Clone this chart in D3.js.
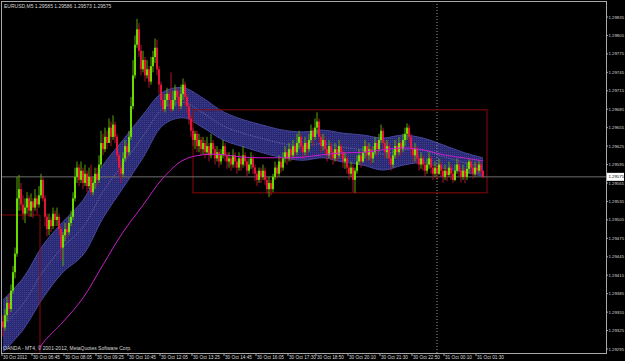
<!DOCTYPE html>
<html>
<head>
<meta charset="utf-8">
<script src="https://cdn.jsdelivr.net/npm/d3@7"></script>
<style>
  html, body { margin: 0; padding: 0; background: #000; }
  svg { display: block; }
  text { font-family: "Liberation Sans", Arial, sans-serif; }
</style>
</head>
<body>
<svg id="chart" width="625" height="361"></svg>
<script>

// header + footer text
const symbolTitle = "EURUSD,M5  1.29585 1.29586 1.29573 1.29575";
const copyright = "OANDA - MT4, \u00a9 2001-2012, MetaQuotes Software Corp.";

// M5 candles, one per bar
const opens = [
1.29340,1.29330,1.29350,1.29370,1.29360,1.29390,1.29420,1.29450,1.29540,1.29555,
1.29530,1.29515,1.29525,1.29540,1.29520,1.29535,1.29525,1.29540,1.29530,1.29545,
1.29570,1.29540,1.29510,1.29490,1.29505,1.29495,1.29515,1.29505,1.29510,1.29490,
1.29460,1.29480,1.29490,1.29485,1.29500,1.29510,1.29540,1.29575,1.29590,1.29570,
1.29585,1.29565,1.29580,1.29560,1.29575,1.29550,1.29565,1.29580,1.29570,1.29595,
1.29630,1.29620,1.29640,1.29630,1.29655,1.29640,1.29660,1.29640,1.29610,1.29590,
1.29580,1.29605,1.29625,1.29615,1.29640,1.29690,1.29740,1.29790,1.29815,1.29780,
1.29750,1.29765,1.29740,1.29750,1.29730,1.29755,1.29770,1.29785,1.29750,1.29725,
1.29700,1.29685,1.29700,1.29710,1.29700,1.29685,1.29700,1.29715,1.29705,1.29690,
1.29710,1.29725,1.29705,1.29690,1.29670,1.29650,1.29635,1.29645,1.29625,1.29635,
1.29620,1.29630,1.29615,1.29625,1.29610,1.29630,1.29620,1.29605,1.29615,1.29600,
1.29610,1.29625,1.29610,1.29600,1.29605,1.29595,1.29610,1.29600,1.29590,1.29605,
1.29595,1.29610,1.29600,1.29585,1.29595,1.29605,1.29590,1.29580,1.29570,1.29585,
1.29575,1.29585,1.29570,1.29555,1.29565,1.29555,1.29575,1.29590,1.29580,1.29600,
1.29590,1.29605,1.29615,1.29605,1.29620,1.29610,1.29625,1.29615,1.29630,1.29640,
1.29625,1.29615,1.29630,1.29620,1.29635,1.29650,1.29640,1.29655,1.29665,1.29640,
1.29625,1.29635,1.29620,1.29610,1.29625,1.29615,1.29605,1.29620,1.29610,1.29625,
1.29615,1.29600,1.29605,1.29590,1.29580,1.29590,1.29570,1.29585,1.29600,1.29610,
1.29600,1.29615,1.29625,1.29610,1.29620,1.29605,1.29615,1.29630,1.29620,1.29635,
1.29650,1.29630,1.29615,1.29625,1.29605,1.29595,1.29610,1.29625,1.29615,1.29630,
1.29620,1.29635,1.29645,1.29655,1.29640,1.29620,1.29610,1.29620,1.29605,1.29595,
1.29605,1.29595,1.29585,1.29595,1.29605,1.29590,1.29580,1.29590,1.29580,1.29595,
1.29585,1.29575,1.29585,1.29578,1.29590,1.29580,1.29570,1.29585,1.29595,1.29585,
1.29575,1.29585,1.29575,1.29588,1.29600,1.29590,1.29580,1.29590,1.29585,1.29595,
1.29585];

const highs = [
1.29350,1.29360,1.29380,1.29385,1.29400,1.29430,1.29460,1.29575,1.29578,1.29565,
1.29545,1.29540,1.29550,1.29545,1.29548,1.29540,1.29555,1.29545,1.29560,1.29580,
1.29575,1.29545,1.29515,1.29515,1.29510,1.29525,1.29520,1.29525,1.29515,1.29495,
1.29485,1.29500,1.29500,1.29510,1.29520,1.29550,1.29590,1.29600,1.29595,1.29600,
1.29590,1.29595,1.29585,1.29590,1.29595,1.29575,1.29590,1.29590,1.29610,1.29650,
1.29645,1.29655,1.29650,1.29670,1.29665,1.29675,1.29665,1.29645,1.29615,1.29600,
1.29615,1.29635,1.29630,1.29650,1.29705,1.29765,1.29805,1.29832,1.29825,1.29790,
1.29780,1.29770,1.29765,1.29755,1.29770,1.29780,1.29800,1.29798,1.29755,1.29730,
1.29710,1.29710,1.29720,1.29715,1.29745,1.29715,1.29725,1.29720,1.29715,1.29725,
1.29735,1.29730,1.29710,1.29695,1.29675,1.29655,1.29650,1.29650,1.29645,1.29640,
1.29640,1.29635,1.29640,1.29630,1.29645,1.29635,1.29625,1.29625,1.29620,1.29620,
1.29635,1.29630,1.29615,1.29615,1.29610,1.29620,1.29615,1.29605,1.29615,1.29610,
1.29625,1.29615,1.29605,1.29605,1.29615,1.29610,1.29595,1.29585,1.29590,1.29590,
1.29595,1.29590,1.29575,1.29575,1.29570,1.29580,1.29600,1.29595,1.29610,1.29605,
1.29615,1.29625,1.29620,1.29630,1.29625,1.29635,1.29630,1.29645,1.29650,1.29645,
1.29630,1.29640,1.29635,1.29645,1.29660,1.29655,1.29670,1.29680,1.29670,1.29645,
1.29645,1.29640,1.29625,1.29635,1.29630,1.29620,1.29630,1.29625,1.29635,1.29630,
1.29620,1.29615,1.29610,1.29595,1.29600,1.29595,1.29590,1.29610,1.29620,1.29615,
1.29625,1.29635,1.29630,1.29630,1.29625,1.29625,1.29640,1.29635,1.29645,1.29660,
1.29655,1.29635,1.29635,1.29630,1.29610,1.29620,1.29635,1.29630,1.29640,1.29635,
1.29645,1.29655,1.29662,1.29660,1.29645,1.29625,1.29630,1.29625,1.29610,1.29615,
1.29610,1.29600,1.29605,1.29615,1.29610,1.29595,1.29600,1.29595,1.29605,1.29600,
1.29590,1.29595,1.29590,1.29600,1.29595,1.29585,1.29595,1.29605,1.29600,1.29590,
1.29595,1.29590,1.29598,1.29605,1.29602,1.29595,1.29600,1.29598,1.29602,1.29599,
1.29586];

const lows = [
1.29315,1.29325,1.29340,1.29350,1.29355,1.29385,1.29410,1.29445,1.29520,1.29520,
1.29505,1.29500,1.29515,1.29510,1.29510,1.29508,1.29520,1.29515,1.29525,1.29540,
1.29535,1.29495,1.29478,1.29480,1.29485,1.29490,1.29495,1.29495,1.29480,1.29440,
1.29430,1.29470,1.29475,1.29480,1.29495,1.29505,1.29535,1.29565,1.29560,1.29565,
1.29555,1.29560,1.29550,1.29555,1.29545,1.29545,1.29555,1.29560,1.29565,1.29590,
1.29610,1.29615,1.29620,1.29630,1.29625,1.29635,1.29630,1.29600,1.29575,1.29565,
1.29575,1.29600,1.29605,1.29610,1.29635,1.29685,1.29735,1.29785,1.29770,1.29740,
1.29745,1.29730,1.29735,1.29720,1.29725,1.29745,1.29760,1.29740,1.29710,1.29690,
1.29680,1.29680,1.29690,1.29685,1.29680,1.29682,1.29690,1.29695,1.29682,1.29685,
1.29700,1.29690,1.29678,1.29660,1.29640,1.29625,1.29620,1.29615,1.29615,1.29610,
1.29612,1.29605,1.29610,1.29600,1.29605,1.29610,1.29595,1.29600,1.29590,1.29595,
1.29605,1.29600,1.29588,1.29590,1.29585,1.29590,1.29590,1.29580,1.29585,1.29585,
1.29590,1.29592,1.29575,1.29580,1.29588,1.29580,1.29568,1.29560,1.29565,1.29565,
1.29570,1.29562,1.29548,1.29542,1.29545,1.29550,1.29570,1.29572,1.29575,1.29582,
1.29585,1.29598,1.29595,1.29600,1.29600,1.29605,1.29608,1.29610,1.29620,1.29615,
1.29605,1.29610,1.29610,1.29615,1.29630,1.29625,1.29635,1.29645,1.29630,1.29615,
1.29618,1.29610,1.29600,1.29605,1.29602,1.29595,1.29600,1.29600,1.29605,1.29605,
1.29590,1.29588,1.29580,1.29570,1.29575,1.29550,1.29549,1.29580,1.29595,1.29590,
1.29598,1.29605,1.29600,1.29602,1.29595,1.29598,1.29610,1.29608,1.29615,1.29630,
1.29620,1.29605,1.29605,1.29595,1.29585,1.29590,1.29605,1.29605,1.29610,1.29610,
1.29615,1.29625,1.29635,1.29630,1.29610,1.29598,1.29600,1.29595,1.29585,1.29588,
1.29585,1.29575,1.29580,1.29588,1.29580,1.29570,1.29575,1.29570,1.29578,1.29575,
1.29565,1.29570,1.29568,1.29575,1.29570,1.29565,1.29568,1.29580,1.29575,1.29566,
1.29570,1.29565,1.29570,1.29580,1.29580,1.29572,1.29575,1.29578,1.29580,1.29578,
1.29573];

const closes = [
1.29330,1.29350,1.29370,1.29360,1.29390,1.29420,1.29450,1.29540,1.29555,1.29530,
1.29515,1.29525,1.29540,1.29520,1.29535,1.29525,1.29540,1.29530,1.29545,1.29570,
1.29540,1.29510,1.29490,1.29505,1.29495,1.29515,1.29505,1.29510,1.29490,1.29460,
1.29480,1.29490,1.29485,1.29500,1.29510,1.29540,1.29575,1.29590,1.29570,1.29585,
1.29565,1.29580,1.29560,1.29575,1.29550,1.29565,1.29580,1.29570,1.29595,1.29630,
1.29620,1.29640,1.29630,1.29655,1.29640,1.29660,1.29640,1.29610,1.29590,1.29580,
1.29605,1.29625,1.29615,1.29640,1.29690,1.29740,1.29790,1.29815,1.29780,1.29750,
1.29765,1.29740,1.29750,1.29730,1.29755,1.29770,1.29785,1.29750,1.29725,1.29700,
1.29685,1.29700,1.29710,1.29700,1.29685,1.29700,1.29715,1.29705,1.29690,1.29710,
1.29725,1.29705,1.29690,1.29670,1.29650,1.29635,1.29645,1.29625,1.29635,1.29620,
1.29630,1.29615,1.29625,1.29610,1.29630,1.29620,1.29605,1.29615,1.29600,1.29610,
1.29625,1.29610,1.29600,1.29605,1.29595,1.29610,1.29600,1.29590,1.29605,1.29595,
1.29610,1.29600,1.29585,1.29595,1.29605,1.29590,1.29580,1.29570,1.29585,1.29575,
1.29585,1.29570,1.29555,1.29565,1.29555,1.29575,1.29590,1.29580,1.29600,1.29590,
1.29605,1.29615,1.29605,1.29620,1.29610,1.29625,1.29615,1.29630,1.29640,1.29625,
1.29615,1.29630,1.29620,1.29635,1.29650,1.29640,1.29655,1.29665,1.29640,1.29625,
1.29635,1.29620,1.29610,1.29625,1.29615,1.29605,1.29620,1.29610,1.29625,1.29615,
1.29600,1.29605,1.29590,1.29580,1.29590,1.29570,1.29585,1.29600,1.29610,1.29600,
1.29615,1.29625,1.29610,1.29620,1.29605,1.29615,1.29630,1.29620,1.29635,1.29650,
1.29630,1.29615,1.29625,1.29605,1.29595,1.29610,1.29625,1.29615,1.29630,1.29620,
1.29635,1.29645,1.29655,1.29640,1.29620,1.29610,1.29620,1.29605,1.29595,1.29605,
1.29595,1.29585,1.29595,1.29605,1.29590,1.29580,1.29590,1.29580,1.29595,1.29585,
1.29575,1.29585,1.29578,1.29590,1.29580,1.29570,1.29585,1.29595,1.29585,1.29575,
1.29585,1.29575,1.29588,1.29600,1.29590,1.29580,1.29590,1.29585,1.29595,1.29585,
1.29575];

// blue envelope, sampled every 10 bars
const bandBars  = [0,10,20,30,40,50,60,70,80,90,100,110,120,130,140,150,160,170,180,190,200,210,220,230,240];
const bandUpper = [1.29375,1.29410,1.29464,1.29502,1.29537,1.29594,1.29635,1.29676,1.29713,1.29720,1.29703,1.29681,1.29668,1.29659,1.29651,1.29648,1.29651,1.29646,1.29643,1.29638,1.29643,1.29638,1.29627,1.29615,1.29606];
const bandMid   = [1.29333,1.29368,1.29421,1.29461,1.29493,1.29551,1.29596,1.29641,1.29686,1.29696,1.29679,1.29658,1.29646,1.29637,1.29629,1.29625,1.29629,1.29623,1.29619,1.29612,1.29619,1.29618,1.29608,1.29599,1.29591];
const bandLower = [1.29290,1.29326,1.29378,1.29420,1.29448,1.29508,1.29557,1.29606,1.29659,1.29671,1.29655,1.29635,1.29624,1.29614,1.29606,1.29602,1.29606,1.29599,1.29594,1.29586,1.29594,1.29598,1.29589,1.29583,1.29576];

// slow moving average (magenta)
const maBars   = [18,20,30,40,50,60,70,80,90,100,110,120,130,140,150,160,170,180,190,200,210,220,230,240];
const maValues = [1.29293,1.29305,1.29339,1.29378,1.29432,1.29485,1.29529,1.29573,1.29602,1.29611,1.29611,1.29607,1.29606,1.29606,1.29607,1.29611,1.29614,1.29615,1.29619,1.29622,1.29619,1.29611,1.29606,1.29601];

// axis labels
const priceTicks = [1.29835,1.29805,1.29775,1.29745,1.29715,1.29685,1.29655,1.29625,1.29595,1.29565,
                    1.29535,1.29505,1.29475,1.29445,1.29415,1.29385,1.29355,1.29325,1.29295];
const timeLabels = ["30 Oct 2012","30 Oct 06:45","30 Oct 08:05","30 Oct 09:25","30 Oct 10:45","30 Oct 12:05",
                    "30 Oct 13:25","30 Oct 14:45","30 Oct 16:05","30 Oct 17:30","30 Oct 18:50","30 Oct 20:10",
                    "30 Oct 21:30","30 Oct 22:50","31 Oct 00:10","31 Oct 01:30"];
const timeLabelBars = [0,15,31,47,63,79,95,111,127,143,157,173,189,205,221,237];

// chart objects
const lastPrice = 1.29575;
const boxBars = [95, 242];
const boxPrices = [1.29684, 1.29549];
const markBar = 18.5;
const markPrice = 1.29513;
const separatorBar = 217;


const svg = d3.select("#chart");
const plotLeft = 1, plotRight = 606, plotTop = 1, plotBottom = 353;

const x = d3.scaleLinear().domain([0, 240]).range([3, 483]);
const y = d3.scaleLinear().domain([1.29295, 1.29835]).range([349, 17]);

const defs = svg.append("defs");
defs.append("clipPath").attr("id", "plot-clip")
  .append("rect")
  .attr("x", plotLeft).attr("y", plotTop)
  .attr("width", plotRight - plotLeft).attr("height", plotBottom - plotTop);

const dots = defs.append("pattern").attr("id", "band-dots")
  .attr("width", 2).attr("height", 2).attr("patternUnits", "userSpaceOnUse");
dots.append("rect").attr("width", 2).attr("height", 2).attr("fill", "#2a2a74");
dots.append("rect").attr("width", 1).attr("height", 1).attr("fill", "#3f3f92");

const plot = svg.append("g").attr("clip-path", "url(#plot-clip)");

// envelope
const band = bandBars.map((b, i) => ({ bar: b, up: bandUpper[i], mid: bandMid[i], lo: bandLower[i] }));

plot.append("path")
  .datum(band)
  .attr("fill", "url(#band-dots)")
  .attr("d", d3.area()
    .x(d => x(d.bar))
    .y0(d => y(d.lo))
    .y1(d => y(d.up))
    .curve(d3.curveCatmullRom));

["up", "lo"].forEach(k => {
  plot.append("path")
    .datum(band)
    .attr("fill", "none")
    .attr("stroke", "#45459c")
    .attr("stroke-width", 1)
    .attr("d", d3.line().x(d => x(d.bar)).y(d => y(d[k])).curve(d3.curveCatmullRom));
});

plot.append("path")
  .datum(band)
  .attr("fill", "none")
  .attr("stroke", "#8080be")
  .attr("stroke-width", 0.8)
  .attr("stroke-dasharray", "1,1.5")
  .attr("d", d3.line().x(d => x(d.bar)).y(d => y(d.mid)).curve(d3.curveCatmullRom));

// period separator
plot.append("line")
  .attr("x1", x(separatorBar)).attr("x2", x(separatorBar))
  .attr("y1", plotTop).attr("y2", plotBottom)
  .attr("stroke", "#a0a0a0")
  .attr("stroke-dasharray", "1,2");

// drawn objects
plot.append("rect")
  .attr("x", x(boxBars[0])).attr("y", y(boxPrices[0]))
  .attr("width", x(boxBars[1]) - x(boxBars[0]))
  .attr("height", y(boxPrices[1]) - y(boxPrices[0]))
  .attr("fill", "none")
  .attr("stroke", "#8b0a0a");

plot.append("line")
  .attr("x1", plotLeft).attr("x2", x(markBar))
  .attr("y1", y(markPrice)).attr("y2", y(markPrice))
  .attr("stroke", "#8b0a0a");
plot.append("line")
  .attr("x1", x(markBar)).attr("x2", x(markBar))
  .attr("y1", y(markPrice)).attr("y2", plotBottom)
  .attr("stroke", "#8b0a0a");

// bid line
plot.append("line")
  .attr("x1", plotLeft).attr("x2", plotRight)
  .attr("y1", y(lastPrice)).attr("y2", y(lastPrice))
  .attr("stroke", "#6e6e6e");

// candles
const bars = closes.map((c, i) => ({ i: i, o: opens[i], h: highs[i], l: lows[i], c: c }));

const candle = plot.append("g").selectAll("g")
  .data(bars)
  .enter().append("g");

candle.append("line")
  .attr("x1", d => x(d.i)).attr("x2", d => x(d.i))
  .attr("y1", d => y(d.h)).attr("y2", d => y(d.l))
  .attr("stroke", d => d.c >= d.o ? "#58a800" : "#b0102c")
  .attr("stroke-width", 1);

candle.append("rect")
  .attr("x", d => x(d.i) - 0.8)
  .attr("width", 1.6)
  .attr("y", d => y(Math.max(d.o, d.c)))
  .attr("height", d => Math.max(0.6, Math.abs(y(d.o) - y(d.c))))
  .attr("fill", d => d.c >= d.o ? "#7cfc00" : "#ff1a3c");

// slow MA
plot.append("path")
  .datum(maBars.map((b, i) => ({ bar: b, v: maValues[i] })))
  .attr("fill", "none")
  .attr("stroke", "#c81ec8")
  .attr("stroke-width", 1)
  .attr("d", d3.line().x(d => x(d.bar)).y(d => y(d.v)).curve(d3.curveCatmullRom));

// frame
svg.append("rect")
  .attr("x", plotLeft + 0.5).attr("y", plotTop + 0.5)
  .attr("width", plotRight - plotLeft).attr("height", plotBottom - plotTop)
  .attr("fill", "none")
  .attr("stroke", "#a8a8a8");

// price axis, small font so the labels fit the narrow strip
const priceAxis = svg.append("g");
priceAxis.selectAll("line")
  .data(priceTicks)
  .enter().append("line")
  .attr("x1", plotRight).attr("x2", plotRight + 2)
  .attr("y1", d => y(d)).attr("y2", d => y(d))
  .attr("stroke", "#a8a8a8");
priceAxis.selectAll("text")
  .data(priceTicks)
  .enter().append("text")
  .attr("x", plotRight + 2.5)
  .attr("y", d => y(d))
  .attr("dy", "0.35em")
  .attr("fill", "#d8d8d8")
  .style("font-size", "4.3px")
  .text(d => d.toFixed(5));

// last price marker
svg.append("rect")
  .attr("x", plotRight + 1).attr("y", y(lastPrice) - 4)
  .attr("width", 17).attr("height", 8)
  .attr("fill", "#ffffff");
svg.append("text")
  .attr("x", plotRight + 2.5).attr("y", y(lastPrice))
  .attr("dy", "0.35em")
  .attr("fill", "#000")
  .style("font-size", "4.3px")
  .text(lastPrice.toFixed(5));

// time axis
const timeAxis = svg.append("g");
timeAxis.selectAll("line")
  .data(timeLabelBars)
  .enter().append("line")
  .attr("x1", d => x(d) - 1).attr("x2", d => x(d) - 1)
  .attr("y1", plotBottom).attr("y2", plotBottom + 3)
  .attr("stroke", "#a8a8a8");
timeAxis.selectAll("text")
  .data(timeLabels)
  .enter().append("text")
  .attr("x", (d, i) => x(timeLabelBars[i]))
  .attr("y", 359)
  .attr("fill", "#d8d8d8")
  .style("font-size", "5px")
  .attr("textLength", (d, i) => i === 0 ? 24 : 27)
  .attr("lengthAdjust", "spacingAndGlyphs")
  .text(d => d);

// labels
svg.append("text")
  .attr("x", 4).attr("y", 7.5)
  .attr("fill", "#d8d8d8")
  .style("font-size", "5px")
  .text(symbolTitle);

svg.append("text")
  .attr("x", 3).attr("y", 349.5)
  .attr("fill", "#d8d8d8")
  .style("font-size", "5px")
  .text(copyright);

</script>
</body>
</html>
